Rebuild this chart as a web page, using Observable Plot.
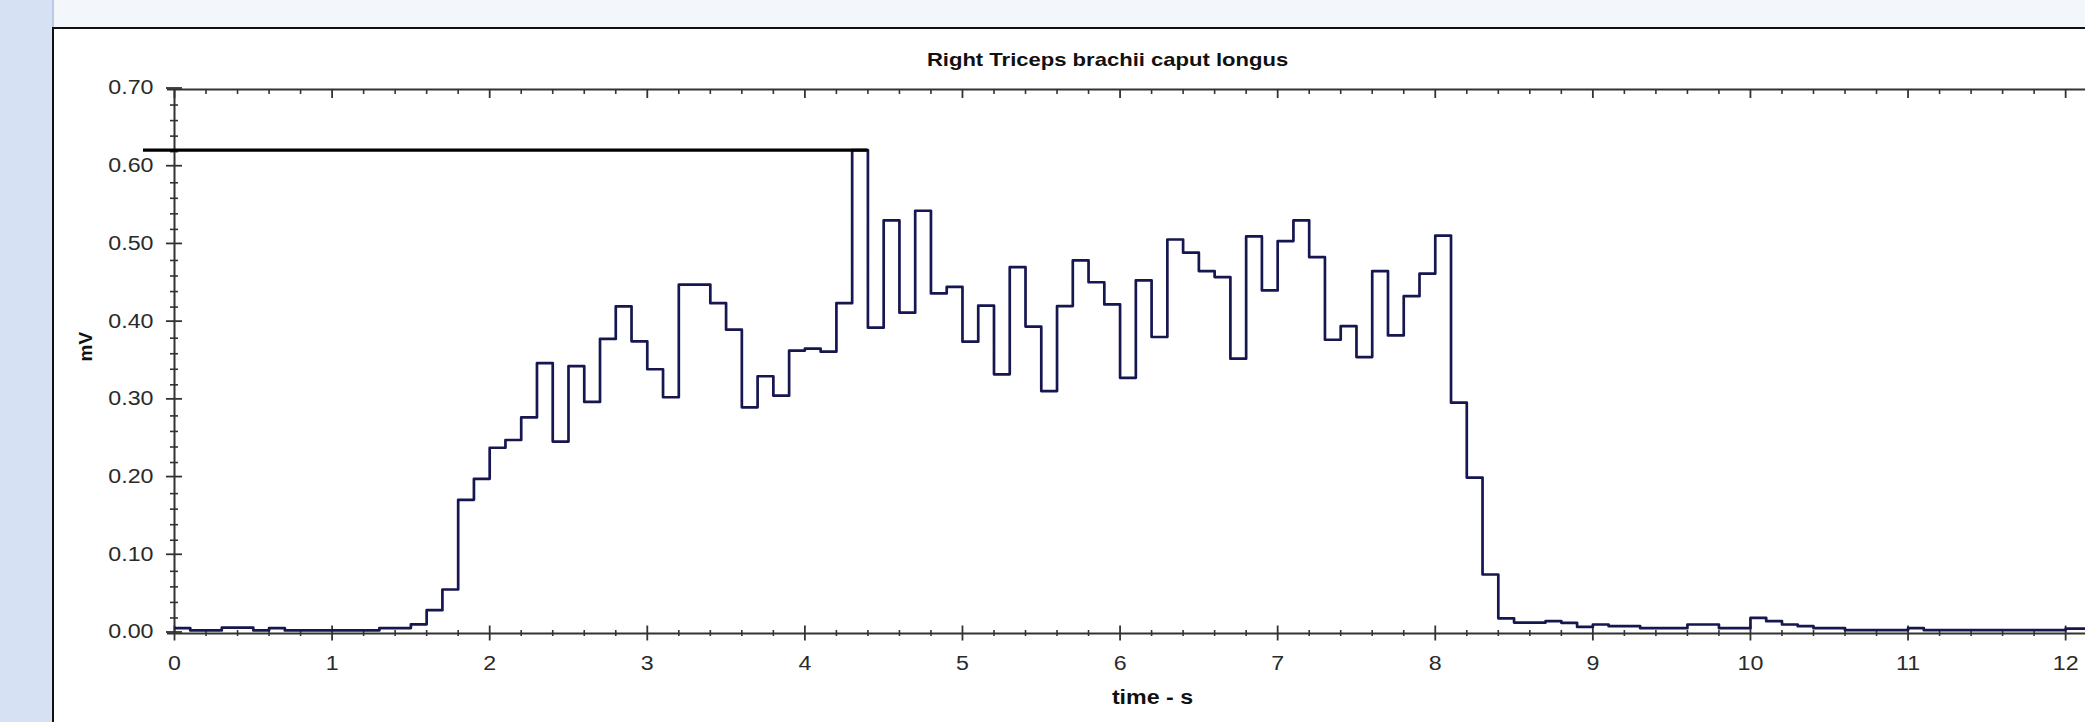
<!DOCTYPE html>
<html><head><meta charset="utf-8">
<script src="https://cdn.jsdelivr.net/npm/d3@7"></script>
<script src="https://cdn.jsdelivr.net/npm/@observablehq/plot@0.6"></script>
<style>
html,body{margin:0;padding:0;width:2085px;height:722px;overflow:hidden;background:#d6e1f3;}
#topband{position:absolute;left:52px;top:0;width:2033px;height:28px;background:#f3f6fb;border-left:2px solid #b9cbe9;box-sizing:border-box;}
#panel{position:absolute;left:52px;top:27px;width:2033px;height:695px;background:#fff;border-left:2px solid #111;border-top:2px solid #111;box-sizing:border-box;}
#chart{position:absolute;left:0;top:0;}
</style></head>
<body>
<div id="topband"></div><div id="panel"></div><div id="chart"></div>
<script>
const title = "Right Triceps brachii caput longus";
const xLabel = "time - s";
const yLabel = "mV";
const sampleStep = 0.1; // s per bin
// mean amplitude per 0.1 s bin, starting at t = 0
const values = [
  0.007, 0.004, 0.004, 0.0075, 0.0075, 0.004, 0.007, 0.004, 0.004, 0.004,
  0.004, 0.004, 0.004, 0.007, 0.007, 0.0118, 0.030, 0.0566, 0.172, 0.199,
  0.239, 0.249, 0.278, 0.348, 0.247, 0.344, 0.298, 0.379, 0.421, 0.376,
  0.340, 0.304, 0.449, 0.449, 0.425, 0.391, 0.291, 0.331, 0.306, 0.364,
  0.3665, 0.3626, 0.425, 0.622, 0.3935, 0.5315, 0.4128, 0.544, 0.4376, 0.446,
  0.3755, 0.422, 0.3335, 0.4715, 0.395, 0.312, 0.4213, 0.480, 0.452, 0.4235,
  0.329, 0.4544, 0.3815, 0.507, 0.490, 0.4663, 0.4586, 0.3537, 0.511, 0.4415,
  0.505, 0.5315, 0.4843, 0.378, 0.3956, 0.3557, 0.4663, 0.3836, 0.434, 0.463,
  0.512, 0.297, 0.2006, 0.0759, 0.0195, 0.014, 0.014, 0.0158, 0.0137, 0.0085,
  0.0116, 0.0094, 0.0094, 0.0068, 0.0068, 0.0068, 0.0116, 0.0116, 0.0068, 0.0068,
  0.020, 0.0158, 0.0116, 0.0094, 0.0068, 0.0068, 0.0043, 0.0043, 0.0043, 0.0043,
  0.0068, 0.0043, 0.0043, 0.0043, 0.0043, 0.0043, 0.0043, 0.0043, 0.0043, 0.0043,
  0.0064, 0.0064
];
const xDomain = [0, 12.126];
const yDomain = [0, 0.7];
const xMajorTicks = [0, 1, 2, 3, 4, 5, 6, 7, 8, 9, 10, 11, 12];
const xMinorTicks = d3.range(0, 12.2, 0.2).map(v => +v.toFixed(2)).filter(v => Math.abs(v - Math.round(v)) > 1e-6);
const yMajorTicks = [0, 0.1, 0.2, 0.3, 0.4, 0.5, 0.6, 0.7];
const yMinorTicks = d3.range(0, 0.701, 0.02).map(v => +v.toFixed(3)).filter(v => Math.abs(v * 10 - Math.round(v * 10)) > 1e-6);

const points = values.map((v, i) => ({t: +(i * sampleStep).toFixed(2), v}));
points.push({t: +(values.length * sampleStep).toFixed(2), v: values[values.length - 1]});
const peakIdx = d3.maxIndex(values);
const peakValue = values[peakIdx];
const peakEnd = +((peakIdx + 1) * sampleStep).toFixed(2);

const axisColor = "#333";
const tickText = "#2a2a2a";

const chart = Plot.plot({
  width: 2085, height: 722,
  marginLeft: 174, marginRight: 0, marginTop: 89, marginBottom: 89,
  x: {domain: xDomain, label: null},
  y: {domain: yDomain, label: null},
  style: {background: "transparent", fontFamily: "'Liberation Sans', Arial, sans-serif", fontSize: "20px", overflow: "visible", color: tickText},
  marks: [
    Plot.axisX({anchor: "bottom", ticks: xMinorTicks, tickSize: 6, dy: -3, fill: "none", stroke: axisColor, strokeWidth: 1.6, label: null}),
    Plot.axisX({anchor: "bottom", ticks: xMajorTicks, tickSize: 15, dy: -7.5, tickPadding: 14.3, tickFormat: d3.format("d"), stroke: axisColor, strokeWidth: 1.8, fill: tickText, label: null}),
    Plot.axisX({anchor: "top", ticks: xMinorTicks, tickSize: 4, dy: 4, fill: "none", stroke: axisColor, strokeWidth: 1.6, label: null}),
    Plot.axisX({anchor: "top", ticks: xMajorTicks, tickSize: 8, dy: 8, fill: "none", stroke: axisColor, strokeWidth: 1.8, label: null}),
    Plot.axisY({anchor: "left", ticks: yMinorTicks, tickSize: 8, dx: 4, fill: "none", stroke: axisColor, strokeWidth: 1.6, label: null}),
    Plot.axisY({anchor: "left", ticks: yMajorTicks, tickSize: 16, dx: 8, tickPadding: 13, dy: -1.5, tickFormat: d3.format(".2f"), stroke: axisColor, strokeWidth: 1.8, fill: tickText, label: null}),
    Plot.ruleY([yDomain[0]], {insetLeft: -7, stroke: axisColor, strokeWidth: 2}),
    Plot.ruleY([yDomain[1]], {insetLeft: -7, stroke: axisColor, strokeWidth: 2}),
    Plot.ruleX([xDomain[0]], {stroke: axisColor, strokeWidth: 2}),
    Plot.line(points, {x: "t", y: "v", curve: "step-after", stroke: "#161650", strokeWidth: 2.7, clip: true}),
    Plot.ruleY([peakValue], {x1: xDomain[0], x2: peakEnd, insetLeft: -31, stroke: "#000", strokeWidth: 3.2}),
    Plot.text([title], {frameAnchor: "top", dx: -22.5, dy: -24, lineAnchor: "bottom", fontWeight: "bold", fontSize: 19, fill: "#111"}),
    Plot.text([xLabel], {frameAnchor: "bottom", dx: 22.5, dy: 70, lineAnchor: "bottom", fontWeight: "bold", fontSize: 20, fill: "#111"}),
    Plot.text([yLabel], {frameAnchor: "left", dx: -89, rotate: -90, lineAnchor: "middle", fontWeight: "bold", fontSize: 19, fill: "#111"})
  ]
});
document.getElementById("chart").append(chart);
// the source screenshot is horizontally stretched: widen horizontal text to match
const stretch = 1.16;
chart.querySelectorAll("text").forEach(t => {
  if (t.textContent === yLabel) return;
  const L = t.getComputedTextLength();
  if (L > 0) {
    t.setAttribute("textLength", (L * stretch).toFixed(2));
    t.setAttribute("lengthAdjust", "spacingAndGlyphs");
  }
});
</script>
</body></html>
